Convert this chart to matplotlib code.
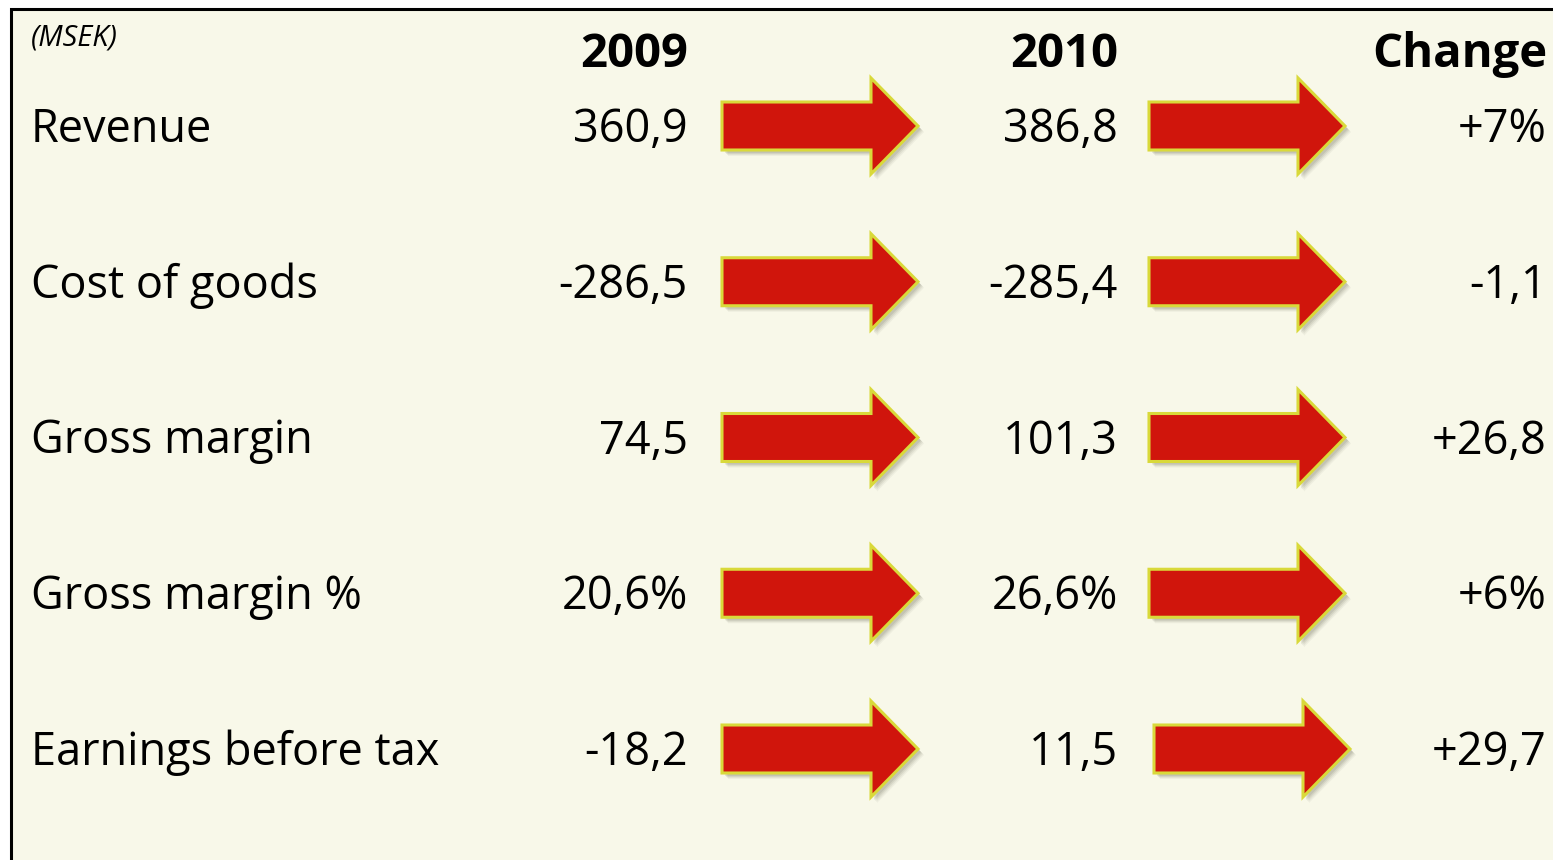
import matplotlib.pyplot as plt
from matplotlib.patches import Polygon, Rectangle

# data
rows = ['Revenue', 'Cost of goods', 'Gross margin', 'Gross margin %', 'Earnings before tax']
v2009 = ['360,9', '-286,5', '74,5', '20,6%', '-18,2']
v2010 = ['386,8', '-285,4', '101,3', '26,6%', '11,5']
change = ['+7%', '-1,1', '+26,8', '+6%', '+29,7']
headers = ['2009', '2010', 'Change']
unit = '(MSEK)'

plt.rcParams['font.family'] = ['Open Sans', 'DejaVu Sans']

W, H = 1553, 860
fig = plt.figure(figsize=(W / 100, H / 100), dpi=100)
ax = fig.add_axes([0, 0, 1, 1])
ax.set_xlim(0, W)
ax.set_ylim(H, 0)
ax.axis('off')

bg = '#f8f8e9'
ax.add_patch(Rectangle((11, 9), W + 20, H + 20, facecolor=bg, edgecolor='black', lw=2.2))

# layout (pixel positions, baselines)
label_x = 31
col_x = [688, 1118, 1547]
row_base = [142 + i * 155.75 for i in range(len(rows))]
header_base = 67
arrow_x = [722, 1149]


def arrow(x0, yc, dx=0):
    x0 = x0 + dx
    L, sh, hh, hl = 196, 24, 48, 47
    pts = [(x0, yc - sh), (x0 + L - hl, yc - sh), (x0 + L - hl, yc - hh),
           (x0 + L, yc), (x0 + L - hl, yc + hh), (x0 + L - hl, yc + sh), (x0, yc + sh)]
    # soft shadow
    for k, a in [(6, 0.06), (5, 0.08), (4, 0.1), (3, 0.12)]:
        sp = [(px + k, py + k) for px, py in pts]
        ax.add_patch(Polygon(sp, closed=True, facecolor='#555544', edgecolor='none', alpha=a))
    ax.add_patch(Polygon(pts, closed=True, facecolor='#d0150c', edgecolor='#d9d93a', lw=2.2))


ax.text(label_x, 45, unit, fontsize=21, style='italic', ha='left', va='baseline')
for x, h in zip(col_x, headers):
    ax.text(x, header_base, h, fontsize=34, fontweight='bold', ha='right', va='baseline')

for i, y in enumerate(row_base):
    ax.text(label_x, y, rows[i], fontsize=32.5, ha='left', va='baseline')
    ax.text(col_x[0], y, v2009[i], fontsize=32.5, ha='right', va='baseline')
    ax.text(col_x[1], y, v2010[i], fontsize=32.5, ha='right', va='baseline')
    ax.text(col_x[2], y, change[i], fontsize=32.5, ha='right', va='baseline')
    arrow(arrow_x[0], y - 16)
    arrow(arrow_x[1], y - 16, dx=5 if i == len(rows) - 1 else 0)

fig.savefig('out.png', dpi=100, facecolor='white')
